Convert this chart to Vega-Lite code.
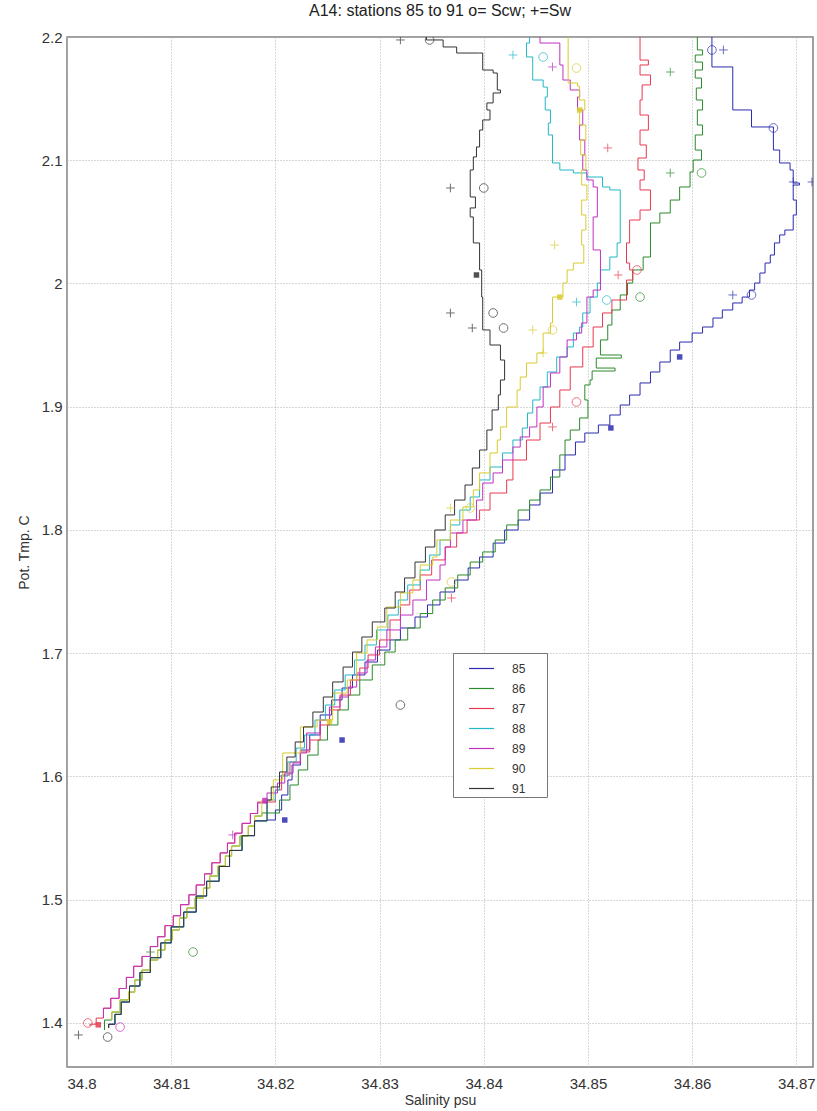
{
"$schema": "https://vega.github.io/schema/vega-lite/v6.json",
"width": 746, "height": 1030,
"autosize": {"type": "none"},
"padding": {"left": 67, "top": 37, "right": 4, "bottom": 44},
"background": "white",
"title": {"text": "A14: stations 85 to 91 o= Scw; +=Sw", "fontSize": 16, "fontWeight": "normal", "font": "Liberation Sans", "color": "#222", "offset": 11, "anchor": "middle"},
"datasets": {
"lines": [
{"st":85,"S":34.8619,"T":2.2},{"st":85,"S":34.8619,"T":2.1757},{"st":85,"S":34.8639,"T":2.1757},{"st":85,"S":34.8639,"T":2.1408},{"st":85,"S":34.8657,"T":2.1408},{"st":85,"S":34.8657,"T":2.127},{"st":85,"S":34.8678,"T":2.1245},{"st":85,"S":34.8678,"T":2.1083},{"st":85,"S":34.8684,"T":2.1043},{"st":85,"S":34.8684,"T":2.0978},{"st":85,"S":34.8694,"T":2.0921},{"st":85,"S":34.8697,"T":2.0815},{"st":85,"S":34.8703,"T":2.0799},{"st":85,"S":34.8697,"T":2.0677},{"st":85,"S":34.87,"T":2.0556},{"st":85,"S":34.8697,"T":2.0434},{"st":85,"S":34.8689,"T":2.0394},{"st":85,"S":34.8684,"T":2.0329},{"st":85,"S":34.8679,"T":2.0231},{"st":85,"S":34.8675,"T":2.0166},{"st":85,"S":34.867,"T":2.0085},{"st":85,"S":34.8665,"T":2.0004},{"st":85,"S":34.866,"T":1.9947},{"st":85,"S":34.8655,"T":1.989},{"st":85,"S":34.8648,"T":1.9842},{"st":85,"S":34.8639,"T":1.9785},{"st":85,"S":34.8629,"T":1.972},{"st":85,"S":34.862,"T":1.9647},{"st":85,"S":34.861,"T":1.9598},{"st":85,"S":34.86,"T":1.9525},{"st":85,"S":34.8588,"T":1.946},{"st":85,"S":34.8579,"T":1.9363},{"st":85,"S":34.8569,"T":1.9282},{"st":85,"S":34.856,"T":1.9193},{"st":85,"S":34.855,"T":1.9095},{"st":85,"S":34.854,"T":1.9014},{"st":85,"S":34.8531,"T":1.8933},{"st":85,"S":34.8521,"T":1.8852},{"st":85,"S":34.851,"T":1.8787},{"st":85,"S":34.8497,"T":1.8714},{"st":85,"S":34.8488,"T":1.8609},{"st":85,"S":34.8478,"T":1.8487},{"st":85,"S":34.8466,"T":1.83},{"st":85,"S":34.8454,"T":1.8203},{"st":85,"S":34.8444,"T":1.8081},{"st":85,"S":34.8433,"T":1.8},{"st":85,"S":34.842,"T":1.7894},{"st":85,"S":34.8409,"T":1.7781},{"st":85,"S":34.8396,"T":1.7692},{"st":85,"S":34.8385,"T":1.7594},{"st":85,"S":34.8372,"T":1.7497},{"st":85,"S":34.8358,"T":1.7392},{"st":85,"S":34.8346,"T":1.7294},{"st":85,"S":34.8334,"T":1.7205},{"st":85,"S":34.832,"T":1.7108},{"st":85,"S":34.831,"T":1.7026},{"st":85,"S":34.8298,"T":1.6929},{"st":85,"S":34.8286,"T":1.6824},{"st":85,"S":34.8274,"T":1.6718},{"st":85,"S":34.8264,"T":1.6621},{"st":85,"S":34.8254,"T":1.6499},{"st":85,"S":34.8243,"T":1.6337},{"st":85,"S":34.8233,"T":1.6215},{"st":85,"S":34.8224,"T":1.6093},{"st":85,"S":34.8216,"T":1.5972},{"st":85,"S":34.8212,"T":1.585},{"st":85,"S":34.8206,"T":1.5728},{"st":85,"S":34.82,"T":1.5647},
{"st":85,"S":34.8192,"T":1.564},{"st":85,"S":34.818,"T":1.552},{"st":85,"S":34.8168,"T":1.54},{"st":85,"S":34.8156,"T":1.527},{"st":85,"S":34.8146,"T":1.515},{"st":85,"S":34.8134,"T":1.503},{"st":85,"S":34.8124,"T":1.49},{"st":85,"S":34.8112,"T":1.478},{"st":85,"S":34.81,"T":1.465},{"st":85,"S":34.809,"T":1.453},{"st":85,"S":34.808,"T":1.441},{"st":85,"S":34.807,"T":1.43},{"st":85,"S":34.806,"T":1.417},{"st":85,"S":34.8052,"T":1.407},{"st":85,"S":34.8046,"T":1.399},{"st":85,"S":34.804,"T":1.396},

{"st":86,"S":34.8605,"T":2.2},{"st":86,"S":34.8605,"T":2.1895},{"st":86,"S":34.861,"T":2.1854},{"st":86,"S":34.8603,"T":2.1797},{"st":86,"S":34.861,"T":2.1732},{"st":86,"S":34.8603,"T":2.1667},{"st":86,"S":34.8609,"T":2.1586},{"st":86,"S":34.8604,"T":2.1489},{"st":86,"S":34.861,"T":2.1408},{"st":86,"S":34.8605,"T":2.1286},{"st":86,"S":34.861,"T":2.1205},{"st":86,"S":34.8603,"T":2.1083},{"st":86,"S":34.8609,"T":2.1002},{"st":86,"S":34.8601,"T":2.0905},{"st":86,"S":34.8598,"T":2.0783},{"st":86,"S":34.8588,"T":2.0734},{"st":86,"S":34.8588,"T":2.0677},{"st":86,"S":34.8579,"T":2.0653},{"st":86,"S":34.8579,"T":2.0572},{"st":86,"S":34.8569,"T":2.0491},{"st":86,"S":34.856,"T":2.0434},{"st":86,"S":34.856,"T":2.0215},{"st":86,"S":34.8553,"T":2.011},{"st":86,"S":34.8543,"T":2.0004},{"st":86,"S":34.8538,"T":1.9907},{"st":86,"S":34.8531,"T":1.9785},{"st":86,"S":34.8523,"T":1.9663},{"st":86,"S":34.8519,"T":1.9542},{"st":86,"S":34.8512,"T":1.942},{"st":86,"S":34.8532,"T":1.9395},{"st":86,"S":34.8508,"T":1.9314},{"st":86,"S":34.8526,"T":1.929},{"st":86,"S":34.8504,"T":1.9217},{"st":86,"S":34.8502,"T":1.9177},{"st":86,"S":34.8497,"T":1.9055},{"st":86,"S":34.85,"T":1.8909},{"st":86,"S":34.8492,"T":1.8811},{"st":86,"S":34.8483,"T":1.873},{"st":86,"S":34.8478,"T":1.8609},{"st":86,"S":34.8473,"T":1.843},{"st":86,"S":34.8464,"T":1.8325},{"st":86,"S":34.8454,"T":1.8243},{"st":86,"S":34.8444,"T":1.8162},{"st":86,"S":34.8433,"T":1.8041},{"st":86,"S":34.8422,"T":1.7919},{"st":86,"S":34.8411,"T":1.7822},{"st":86,"S":34.8399,"T":1.774},{"st":86,"S":34.8387,"T":1.7635},{"st":86,"S":34.8375,"T":1.753},{"st":86,"S":34.8363,"T":1.7432},{"st":86,"S":34.8351,"T":1.7322},{"st":86,"S":34.8339,"T":1.7205},{"st":86,"S":34.8327,"T":1.7108},{"st":86,"S":34.8315,"T":1.701},{"st":86,"S":34.8305,"T":1.6905},{"st":86,"S":34.8293,"T":1.6783},{"st":86,"S":34.8281,"T":1.6661},{"st":86,"S":34.827,"T":1.654},{"st":86,"S":34.826,"T":1.6418},{"st":86,"S":34.825,"T":1.6296},{"st":86,"S":34.8241,"T":1.6174},{"st":86,"S":34.8231,"T":1.6053},{"st":86,"S":34.8222,"T":1.5931},{"st":86,"S":34.8214,"T":1.5809},{"st":86,"S":34.8204,"T":1.5704},
{"st":86,"S":34.8187,"T":1.5679},{"st":86,"S":34.818,"T":1.5598},{"st":86,"S":34.8174,"T":1.5517},{"st":86,"S":34.8166,"T":1.5436},{"st":86,"S":34.8158,"T":1.5355},{"st":86,"S":34.8152,"T":1.5274},{"st":86,"S":34.8145,"T":1.5193},{"st":86,"S":34.8137,"T":1.5095},{"st":86,"S":34.8131,"T":1.5014},{"st":86,"S":34.8123,"T":1.4933},{"st":86,"S":34.8115,"T":1.4852},{"st":86,"S":34.8108,"T":1.4755},{"st":86,"S":34.8101,"T":1.4673},{"st":86,"S":34.8094,"T":1.4592},{"st":86,"S":34.8087,"T":1.4511},{"st":86,"S":34.808,"T":1.443},{"st":86,"S":34.8072,"T":1.4349},{"st":86,"S":34.8065,"T":1.4251},{"st":86,"S":34.8059,"T":1.4187},{"st":86,"S":34.8051,"T":1.4089},{"st":86,"S":34.8043,"T":1.4024},{"st":86,"S":34.8036,"T":1.3943},

{"st":87,"S":34.855,"T":2.2},{"st":87,"S":34.855,"T":2.1813},{"st":87,"S":34.8558,"T":2.1773},{"st":87,"S":34.855,"T":2.1692},{"st":87,"S":34.856,"T":2.1611},{"st":87,"S":34.8552,"T":2.1489},{"st":87,"S":34.855,"T":2.1367},{"st":87,"S":34.8558,"T":2.1245},{"st":87,"S":34.855,"T":2.1124},{"st":87,"S":34.8556,"T":2.1018},{"st":87,"S":34.8548,"T":2.0921},{"st":87,"S":34.8554,"T":2.084},{"st":87,"S":34.855,"T":2.0759},{"st":87,"S":34.856,"T":2.0734},{"st":87,"S":34.856,"T":2.0596},{"st":87,"S":34.855,"T":2.058},{"st":87,"S":34.855,"T":2.0515},{"st":87,"S":34.854,"T":2.0491},{"st":87,"S":34.854,"T":2.0329},{"st":87,"S":34.8537,"T":2.0166},{"st":87,"S":34.854,"T":2.011},{"st":87,"S":34.8543,"T":2.0028},{"st":87,"S":34.8537,"T":1.9866},{"st":87,"S":34.8523,"T":1.9761},{"st":87,"S":34.8514,"T":1.9647},{"st":87,"S":34.8505,"T":1.9485},{"st":87,"S":34.8495,"T":1.9323},{"st":87,"S":34.8483,"T":1.9136},{"st":87,"S":34.8473,"T":1.8998},{"st":87,"S":34.8464,"T":1.8868},{"st":87,"S":34.8454,"T":1.873},{"st":87,"S":34.8441,"T":1.8568},{"st":87,"S":34.8428,"T":1.8406},{"st":87,"S":34.8422,"T":1.83},{"st":87,"S":34.8406,"T":1.8162},{"st":87,"S":34.8396,"T":1.8081},{"st":87,"S":34.8384,"T":1.7976},{"st":87,"S":34.8374,"T":1.7862},{"st":87,"S":34.8363,"T":1.7757},{"st":87,"S":34.835,"T":1.7635},{"st":87,"S":34.8339,"T":1.7513},{"st":87,"S":34.8329,"T":1.7392},{"st":87,"S":34.832,"T":1.727},{"st":87,"S":34.831,"T":1.7108},{"st":87,"S":34.83,"T":1.6986},{"st":87,"S":34.8289,"T":1.688},{"st":87,"S":34.8281,"T":1.6783},{"st":87,"S":34.8272,"T":1.6661},{"st":87,"S":34.8262,"T":1.654},{"st":87,"S":34.8252,"T":1.6418},{"st":87,"S":34.8243,"T":1.6296},{"st":87,"S":34.8233,"T":1.6199},{"st":87,"S":34.8224,"T":1.6118},{"st":87,"S":34.8214,"T":1.6012},{"st":87,"S":34.8206,"T":1.5891},{"st":87,"S":34.82,"T":1.5793},
{"st":87,"S":34.8183,"T":1.57},{"st":87,"S":34.8176,"T":1.562},{"st":87,"S":34.8168,"T":1.554},{"st":87,"S":34.8161,"T":1.546},{"st":87,"S":34.8154,"T":1.538},{"st":87,"S":34.8147,"T":1.53},{"st":87,"S":34.8139,"T":1.521},{"st":87,"S":34.8132,"T":1.512},{"st":87,"S":34.8124,"T":1.504},{"st":87,"S":34.8117,"T":1.496},{"st":87,"S":34.8109,"T":1.487},{"st":87,"S":34.8102,"T":1.479},{"st":87,"S":34.8094,"T":1.47},{"st":87,"S":34.8087,"T":1.462},{"st":87,"S":34.808,"T":1.454},{"st":87,"S":34.8072,"T":1.446},{"st":87,"S":34.8064,"T":1.437},{"st":87,"S":34.8057,"T":1.428},{"st":87,"S":34.805,"T":1.42},{"st":87,"S":34.8042,"T":1.412},{"st":87,"S":34.8035,"T":1.404},{"st":87,"S":34.8028,"T":1.399},{"st":87,"S":34.8022,"T":1.3975},

{"st":88,"S":34.8444,"T":2.2},{"st":88,"S":34.8444,"T":2.1951},{"st":88,"S":34.8441,"T":2.1838},{"st":88,"S":34.8447,"T":2.1732},{"st":88,"S":34.8447,"T":2.1651},{"st":88,"S":34.8457,"T":2.1594},{"st":88,"S":34.8461,"T":2.1513},{"st":88,"S":34.8459,"T":2.1408},{"st":88,"S":34.8464,"T":2.1302},{"st":88,"S":34.8462,"T":2.1205},{"st":88,"S":34.8466,"T":2.1164},{"st":88,"S":34.8466,"T":2.0978},{"st":88,"S":34.8473,"T":2.0921},{"st":88,"S":34.8486,"T":2.0897},{"st":88,"S":34.8499,"T":2.0864},{"st":88,"S":34.8509,"T":2.0864},{"st":88,"S":34.8514,"T":2.0783},{"st":88,"S":34.8521,"T":2.0759},{"st":88,"S":34.8531,"T":2.0734},{"st":88,"S":34.8531,"T":2.0329},{"st":88,"S":34.8528,"T":2.0215},{"st":88,"S":34.8521,"T":2.011},{"st":88,"S":34.8512,"T":2.0004},{"st":88,"S":34.8509,"T":1.989},{"st":88,"S":34.8502,"T":1.9761},{"st":88,"S":34.8495,"T":1.9647},{"st":88,"S":34.8492,"T":1.9598},{"st":88,"S":34.8486,"T":1.9485},{"st":88,"S":34.848,"T":1.9404},{"st":88,"S":34.847,"T":1.9282},{"st":88,"S":34.8461,"T":1.916},{"st":88,"S":34.8454,"T":1.9055},{"st":88,"S":34.8447,"T":1.8949},{"st":88,"S":34.8442,"T":1.8827},{"st":88,"S":34.8437,"T":1.873},{"st":88,"S":34.8428,"T":1.8625},{"st":88,"S":34.8418,"T":1.8511},{"st":88,"S":34.8406,"T":1.8406},{"st":88,"S":34.8396,"T":1.8268},{"st":88,"S":34.8387,"T":1.8162},{"st":88,"S":34.8377,"T":1.8041},{"st":88,"S":34.8368,"T":1.7919},{"st":88,"S":34.8358,"T":1.7797},{"st":88,"S":34.8348,"T":1.7675},{"st":88,"S":34.8339,"T":1.7554},{"st":88,"S":34.8327,"T":1.7432},{"st":88,"S":34.8318,"T":1.731},{"st":88,"S":34.8308,"T":1.7189},{"st":88,"S":34.8297,"T":1.7067},{"st":88,"S":34.8286,"T":1.6945},{"st":88,"S":34.8276,"T":1.6824},{"st":88,"S":34.8267,"T":1.6702},{"st":88,"S":34.8257,"T":1.658},{"st":88,"S":34.8248,"T":1.6458},{"st":88,"S":34.8238,"T":1.6337},{"st":88,"S":34.8228,"T":1.6231},{"st":88,"S":34.822,"T":1.6118},{"st":88,"S":34.8212,"T":1.6004},{"st":88,"S":34.8204,"T":1.5891},{"st":88,"S":34.82,"T":1.5809},
{"st":88,"S":34.8192,"T":1.564},{"st":88,"S":34.818,"T":1.552},{"st":88,"S":34.8168,"T":1.54},{"st":88,"S":34.8156,"T":1.527},{"st":88,"S":34.8146,"T":1.515},{"st":88,"S":34.8134,"T":1.503},{"st":88,"S":34.8124,"T":1.49},{"st":88,"S":34.8112,"T":1.478},{"st":88,"S":34.81,"T":1.465},{"st":88,"S":34.809,"T":1.453},{"st":88,"S":34.808,"T":1.441},{"st":88,"S":34.807,"T":1.43},{"st":88,"S":34.806,"T":1.417},{"st":88,"S":34.8052,"T":1.407},{"st":88,"S":34.8046,"T":1.399},

{"st":89,"S":34.8454,"T":2.2},{"st":89,"S":34.8454,"T":2.1951},{"st":89,"S":34.8473,"T":2.1895},{"st":89,"S":34.8473,"T":2.1773},{"st":89,"S":34.8476,"T":2.1651},{"st":89,"S":34.8483,"T":2.157},{"st":89,"S":34.8492,"T":2.1513},{"st":89,"S":34.849,"T":2.1408},{"st":89,"S":34.8495,"T":2.1286},{"st":89,"S":34.8492,"T":2.1164},{"st":89,"S":34.8497,"T":2.1043},{"st":89,"S":34.8495,"T":2.0921},{"st":89,"S":34.8499,"T":2.084},{"st":89,"S":34.8505,"T":2.0783},{"st":89,"S":34.8509,"T":2.054},{"st":89,"S":34.8505,"T":2.0434},{"st":89,"S":34.8505,"T":2.0272},{"st":89,"S":34.8512,"T":2.0215},{"st":89,"S":34.8512,"T":1.9947},{"st":89,"S":34.8505,"T":1.989},{"st":89,"S":34.8499,"T":1.968},{"st":89,"S":34.8494,"T":1.9598},{"st":89,"S":34.8489,"T":1.9542},{"st":89,"S":34.848,"T":1.9404},{"st":89,"S":34.8473,"T":1.9274},{"st":89,"S":34.8464,"T":1.916},{"st":89,"S":34.8457,"T":1.8998},{"st":89,"S":34.8451,"T":1.8836},{"st":89,"S":34.8444,"T":1.8755},{"st":89,"S":34.8435,"T":1.8673},{"st":89,"S":34.8428,"T":1.8568},{"st":89,"S":34.8418,"T":1.8463},{"st":89,"S":34.8409,"T":1.8381},{"st":89,"S":34.8399,"T":1.8243},{"st":89,"S":34.8393,"T":1.8081},{"st":89,"S":34.838,"T":1.7976},{"st":89,"S":34.8368,"T":1.7862},{"st":89,"S":34.8363,"T":1.7716},{"st":89,"S":34.8358,"T":1.7594},{"st":89,"S":34.8345,"T":1.7432},{"st":89,"S":34.8332,"T":1.731},{"st":89,"S":34.832,"T":1.7189},{"st":89,"S":34.8307,"T":1.7051},{"st":89,"S":34.8296,"T":1.6945},{"st":89,"S":34.8288,"T":1.684},{"st":89,"S":34.8278,"T":1.6726},{"st":89,"S":34.827,"T":1.6645},{"st":89,"S":34.8262,"T":1.6564},{"st":89,"S":34.8252,"T":1.6458},{"st":89,"S":34.8243,"T":1.6353},{"st":89,"S":34.823,"T":1.6191},{"st":89,"S":34.8224,"T":1.611},{"st":89,"S":34.8217,"T":1.6028},{"st":89,"S":34.8209,"T":1.5947},{"st":89,"S":34.8202,"T":1.5866},{"st":89,"S":34.8192,"T":1.5785},
{"st":89,"S":34.8183,"T":1.57},{"st":89,"S":34.8176,"T":1.562},{"st":89,"S":34.8168,"T":1.554},{"st":89,"S":34.8161,"T":1.546},{"st":89,"S":34.8154,"T":1.538},{"st":89,"S":34.8147,"T":1.53},{"st":89,"S":34.8139,"T":1.521},{"st":89,"S":34.8132,"T":1.512},{"st":89,"S":34.8124,"T":1.504},{"st":89,"S":34.8117,"T":1.496},{"st":89,"S":34.8109,"T":1.487},{"st":89,"S":34.8102,"T":1.479},{"st":89,"S":34.8094,"T":1.47},{"st":89,"S":34.8087,"T":1.462},{"st":89,"S":34.808,"T":1.454},{"st":89,"S":34.8072,"T":1.446},{"st":89,"S":34.8064,"T":1.437},{"st":89,"S":34.8057,"T":1.428},{"st":89,"S":34.805,"T":1.42},{"st":89,"S":34.8042,"T":1.412},{"st":89,"S":34.8035,"T":1.404},

{"st":90,"S":34.8481,"T":2.2},{"st":90,"S":34.8481,"T":2.1627},{"st":90,"S":34.849,"T":2.1602},{"st":90,"S":34.8492,"T":2.1489},{"st":90,"S":34.8497,"T":2.1408},{"st":90,"S":34.8492,"T":2.1286},{"st":90,"S":34.8498,"T":2.1164},{"st":90,"S":34.8493,"T":2.1043},{"st":90,"S":34.8498,"T":2.0921},{"st":90,"S":34.8494,"T":2.0799},{"st":90,"S":34.8499,"T":2.0677},{"st":90,"S":34.8494,"T":2.0556},{"st":90,"S":34.8498,"T":2.0434},{"st":90,"S":34.8494,"T":2.0312},{"st":90,"S":34.8496,"T":2.0166},{"st":90,"S":34.8486,"T":2.011},{"st":90,"S":34.848,"T":2.0004},{"st":90,"S":34.8476,"T":1.989},{"st":90,"S":34.8466,"T":1.9866},{"st":90,"S":34.8466,"T":1.968},{"st":90,"S":34.8464,"T":1.9598},{"st":90,"S":34.8457,"T":1.9436},{"st":90,"S":34.8451,"T":1.9355},{"st":90,"S":34.8441,"T":1.9241},{"st":90,"S":34.8435,"T":1.9136},{"st":90,"S":34.8432,"T":1.8998},{"st":90,"S":34.8422,"T":1.8836},{"st":90,"S":34.8416,"T":1.873},{"st":90,"S":34.8413,"T":1.8625},{"st":90,"S":34.8406,"T":1.8463},{"st":90,"S":34.8396,"T":1.8325},{"st":90,"S":34.839,"T":1.8187},{"st":90,"S":34.838,"T":1.8081},{"st":90,"S":34.8368,"T":1.7919},{"st":90,"S":34.8355,"T":1.7781},{"st":90,"S":34.8351,"T":1.7716},{"st":90,"S":34.8339,"T":1.7594},{"st":90,"S":34.8332,"T":1.7489},{"st":90,"S":34.832,"T":1.7375},{"st":90,"S":34.8307,"T":1.7213},{"st":90,"S":34.8298,"T":1.7108},{"st":90,"S":34.8288,"T":1.7002},{"st":90,"S":34.8278,"T":1.6783},{"st":90,"S":34.8269,"T":1.6677},{"st":90,"S":34.8255,"T":1.6458},{"st":90,"S":34.824,"T":1.6402},{"st":90,"S":34.8224,"T":1.6191},{"st":90,"S":34.8207,"T":1.5972},{"st":90,"S":34.8198,"T":1.5809},
{"st":90,"S":34.8187,"T":1.5679},{"st":90,"S":34.818,"T":1.5598},{"st":90,"S":34.8174,"T":1.5517},{"st":90,"S":34.8166,"T":1.5436},{"st":90,"S":34.8158,"T":1.5355},{"st":90,"S":34.8152,"T":1.5274},{"st":90,"S":34.8145,"T":1.5193},{"st":90,"S":34.8137,"T":1.5095},{"st":90,"S":34.8131,"T":1.5014},{"st":90,"S":34.8123,"T":1.4933},{"st":90,"S":34.8115,"T":1.4852},{"st":90,"S":34.8108,"T":1.4755},{"st":90,"S":34.8101,"T":1.4673},{"st":90,"S":34.8094,"T":1.4592},{"st":90,"S":34.8087,"T":1.4511},{"st":90,"S":34.808,"T":1.443},{"st":90,"S":34.8072,"T":1.4349},{"st":90,"S":34.8065,"T":1.4251},{"st":90,"S":34.8059,"T":1.4187},{"st":90,"S":34.8051,"T":1.4089},{"st":90,"S":34.8043,"T":1.4024},

{"st":91,"S":34.8345,"T":2.2},{"st":91,"S":34.8345,"T":2.1976},{"st":91,"S":34.8361,"T":2.1919},{"st":91,"S":34.8374,"T":2.187},{"st":91,"S":34.8396,"T":2.187},{"st":91,"S":34.8399,"T":2.1732},{"st":91,"S":34.8409,"T":2.1708},{"st":91,"S":34.8413,"T":2.157},{"st":91,"S":34.8416,"T":2.1546},{"st":91,"S":34.8409,"T":2.1465},{"st":91,"S":34.8403,"T":2.1408},{"st":91,"S":34.8406,"T":2.1327},{"st":91,"S":34.8399,"T":2.1245},{"st":91,"S":34.8396,"T":2.1108},{"st":91,"S":34.8393,"T":2.1027},{"st":91,"S":34.839,"T":2.0921},{"st":91,"S":34.8387,"T":2.0702},{"st":91,"S":34.8392,"T":2.0613},{"st":91,"S":34.8387,"T":2.054},{"st":91,"S":34.839,"T":2.0329},{"st":91,"S":34.8396,"T":2.0296},{"st":91,"S":34.8396,"T":2.011},{"st":91,"S":34.8398,"T":1.989},{"st":91,"S":34.8399,"T":1.9623},{"st":91,"S":34.8406,"T":1.9501},{"st":91,"S":34.8416,"T":1.9379},{"st":91,"S":34.842,"T":1.9217},{"st":91,"S":34.8416,"T":1.9096},{"st":91,"S":34.8414,"T":1.8974},{"st":91,"S":34.8408,"T":1.8811},{"st":91,"S":34.8403,"T":1.8649},{"st":91,"S":34.8396,"T":1.8503},{"st":91,"S":34.8389,"T":1.8365},{"st":91,"S":34.8382,"T":1.8243},{"st":91,"S":34.8372,"T":1.8122},{"st":91,"S":34.8363,"T":1.8},{"st":91,"S":34.8353,"T":1.7862},{"st":91,"S":34.8344,"T":1.774},{"st":91,"S":34.8334,"T":1.7611},{"st":91,"S":34.8324,"T":1.7497},{"st":91,"S":34.8315,"T":1.7367},{"st":91,"S":34.8305,"T":1.7254},{"st":91,"S":34.8293,"T":1.7132},{"st":91,"S":34.8283,"T":1.701},{"st":91,"S":34.8274,"T":1.6888},{"st":91,"S":34.8265,"T":1.6767},{"st":91,"S":34.8255,"T":1.6645},{"st":91,"S":34.8246,"T":1.6523},{"st":91,"S":34.8236,"T":1.6402},{"st":91,"S":34.8227,"T":1.628},{"st":91,"S":34.8219,"T":1.6158},{"st":91,"S":34.8211,"T":1.6037},{"st":91,"S":34.8204,"T":1.5915},{"st":91,"S":34.8196,"T":1.5809},
{"st":91,"S":34.8192,"T":1.564},{"st":91,"S":34.818,"T":1.552},{"st":91,"S":34.8168,"T":1.54},{"st":91,"S":34.8156,"T":1.527},{"st":91,"S":34.8146,"T":1.515},{"st":91,"S":34.8134,"T":1.503},{"st":91,"S":34.8124,"T":1.49},{"st":91,"S":34.8112,"T":1.478},{"st":91,"S":34.81,"T":1.465},{"st":91,"S":34.809,"T":1.453},{"st":91,"S":34.808,"T":1.441},{"st":91,"S":34.807,"T":1.43},{"st":91,"S":34.806,"T":1.417},{"st":91,"S":34.8052,"T":1.407},{"st":91,"S":34.8046,"T":1.399},{"st":91,"S":34.804,"T":1.396}
],
"marks": [
{"st":91,"k":"+","S":34.832,"T":2.1976},{"st":91,"k":"o","S":34.8348,"T":2.1976},{"st":91,"k":"+","S":34.8368,"T":2.0775},{"st":91,"k":"o","S":34.84,"T":2.0775},{"st":91,"k":"+","S":34.8368,"T":1.9761},{"st":91,"k":"o","S":34.8409,"T":1.9761},{"st":91,"k":"+","S":34.8389,"T":1.9639},{"st":91,"k":"o","S":34.8419,"T":1.9639},{"st":91,"k":"o","S":34.832,"T":1.658},{"st":91,"k":"+","S":34.8011,"T":1.3903},{"st":91,"k":"o","S":34.8039,"T":1.3886},{"st":91,"k":"sq","S":34.8393,"T":2.0069},
{"st":88,"k":"+","S":34.8428,"T":2.1854},{"st":88,"k":"o","S":34.8457,"T":2.1838},{"st":88,"k":"o","S":34.8518,"T":1.9866},{"st":88,"k":"+","S":34.8489,"T":1.985},
{"st":89,"k":"+","S":34.8466,"T":2.1757},{"st":89,"k":"+","S":34.8159,"T":1.5526},{"st":89,"k":"o","S":34.8051,"T":1.3967},{"st":89,"k":"sq","S":34.819,"T":1.5805},
{"st":90,"k":"o","S":34.8489,"T":2.1748},{"st":90,"k":"+","S":34.8468,"T":2.0312},{"st":90,"k":"+","S":34.8447,"T":1.9623},{"st":90,"k":"o","S":34.8466,"T":1.9623},{"st":90,"k":"+","S":34.8457,"T":1.9436},{"st":90,"k":"+","S":34.8368,"T":1.8179},{"st":90,"k":"o","S":34.8387,"T":1.8179},{"st":90,"k":"o","S":34.8369,"T":1.7578},{"st":90,"k":"sq","S":34.8492,"T":2.1408},{"st":90,"k":"sq","S":34.8473,"T":1.989},{"st":90,"k":"sq","S":34.8252,"T":1.6445},
{"st":87,"k":"+","S":34.8519,"T":2.11},{"st":87,"k":"o","S":34.8547,"T":2.011},{"st":87,"k":"+","S":34.8529,"T":2.0069},{"st":87,"k":"o","S":34.8489,"T":1.9039},{"st":87,"k":"+","S":34.8466,"T":1.8836},{"st":87,"k":"o","S":34.802,"T":1.4},{"st":87,"k":"+","S":34.8369,"T":1.7448},{"st":87,"k":"sq","S":34.803,"T":1.3985},
{"st":86,"k":"+","S":34.8579,"T":2.1716},{"st":86,"k":"+","S":34.8579,"T":2.0897},{"st":86,"k":"o","S":34.8609,"T":2.0897},{"st":86,"k":"o","S":34.855,"T":1.989},{"st":86,"k":"+","S":34.808,"T":1.4576},{"st":86,"k":"o","S":34.8121,"T":1.4576},
{"st":85,"k":"o","S":34.8619,"T":2.1895},{"st":85,"k":"+","S":34.863,"T":2.1895},{"st":85,"k":"o","S":34.8678,"T":2.1262},{"st":85,"k":"+","S":34.8697,"T":2.0824},{"st":85,"k":"+","S":34.8715,"T":2.0824},{"st":85,"k":"+","S":34.8639,"T":1.9907},{"st":85,"k":"o","S":34.8657,"T":1.9907},{"st":85,"k":"sq","S":34.8522,"T":1.8828},{"st":85,"k":"sq","S":34.8588,"T":1.9404},{"st":85,"k":"sq","S":34.8209,"T":1.5647},{"st":85,"k":"sq","S":34.8264,"T":1.6296}
]
},
"encoding": {
"x": {"field": "S", "type": "quantitative", "scale": {"domain": [34.8, 34.8716], "nice": false, "zero": false},
 "axis": {"values": [34.8, 34.81, 34.82, 34.83, 34.84, 34.85, 34.86, 34.87], "format": "~g", "title": "Salinity psu", "labelPadding": 9, "titlePadding": 2}},
"y": {"field": "T", "type": "quantitative", "scale": {"domain": [1.3643, 2.2], "nice": false, "zero": false},
 "axis": {"values": [1.4, 1.5, 1.6, 1.7, 1.8, 1.9, 2, 2.1, 2.2], "format": "~g", "title": "Pot. Tmp. C", "labelPadding": 5, "titlePadding": 10}}
},
"layer": [
{"data": {"name": "lines"},
 "mark": {"type": "line", "interpolate": "step-after", "strokeWidth": 1, "clip": true},
 "encoding": {
  "color": {"field": "st", "type": "nominal",
   "scale": {"domain": [85, 86, 87, 88, 89, 90, 91], "range": ["#2b2bb0", "#2a8a2a", "#e8384f", "#22b8c8", "#c030c0", "#d8cc30", "#333333"]},
   "legend": {"title": "85", "titleOrient": "right", "titleColor": "white", "titleFontSize": 12, "titleFontWeight": "normal", "titlePadding": 6,
     "orient": "none", "legendX": 386, "legendY": 616, "direction": "vertical",
     "symbolType": "stroke", "symbolSize": 625, "symbolStrokeWidth": 1.2, "symbolOffset": 13, "padding": 2, "rowPadding": 0,
     "labelOffset": 17, "labelFontSize": 12, "labelFont": "Liberation Sans", "labelColor": "#333",
     "strokeColor": "#777", "fillColor": "white"}},
  "order": {"value": null}
 }},
{"data": {"name": "marks"},
 "transform": [{"filter": "datum.k != 'sq'"}],
 "mark": {"type": "point", "filled": false, "strokeWidth": 1, "size": 75, "clip": true},
 "encoding": {
  "color": {"field": "st", "type": "nominal", "legend": null},
  "shape": {"field": "k", "type": "nominal", "scale": {"domain": ["o", "+"], "range": ["circle", "M-1,0L1,0M0,-1L0,1"]}, "legend": null}
 }},
{"data": {"name": "marks"},
 "transform": [{"filter": "datum.k == 'sq'"}],
 "mark": {"type": "square", "size": 30, "clip": true, "opacity": 0.85},
 "encoding": {
  "color": {"field": "st", "type": "nominal", "legend": null}
 }}
],
"config": {
 "font": "Liberation Sans",
 "view": {"stroke": "#808080", "strokeWidth": 1.5},
 "axis": {"grid": true, "gridColor": "#b0b0b0", "gridDash": [1, 2], "gridWidth": 1, "ticks": false, "domain": false,
   "labelFont": "Liberation Sans", "labelFontSize": 15, "labelColor": "#333",
   "titleFont": "Liberation Sans", "titleFontSize": 14, "titleFontWeight": "normal", "titleColor": "#333"}
}
}
